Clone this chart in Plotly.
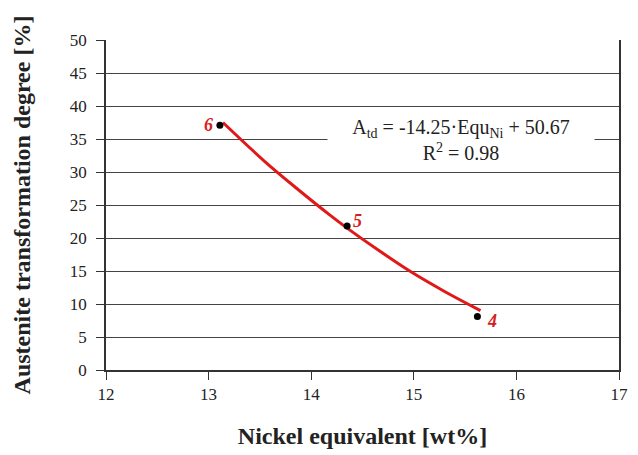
import plotly.graph_objects as go

# Data
sample_ids = ["6", "5", "4"]
nickel_eq = [13.11, 14.35, 15.62]
austenite_deg = [37.1, 21.8, 8.1]

# Trend curve (red)
trend_x = [13.14, 13.54, 13.86, 14.18, 14.35, 14.66, 14.98, 15.30, 15.65]
trend_y = [37.5, 31.7, 27.5, 23.5, 21.5, 18.1, 14.8, 11.9, 9.0]

x_ticks = [12, 13, 14, 15, 16, 17]
y_ticks = [0, 5, 10, 15, 20, 25, 30, 35, 40, 45, 50]

label_shift = {"6": (-11, 0), "5": (10, -5), "4": (15, 4)}

SERIF = "Liberation Serif, Times New Roman, serif"

fig = go.Figure()
fig.add_trace(go.Scatter(x=trend_x, y=trend_y, mode="lines",
                         line=dict(color="#e01818", width=3, shape="spline", smoothing=1.0),
                         hoverinfo="skip", showlegend=False))
fig.add_trace(go.Scatter(x=nickel_eq, y=austenite_deg, mode="markers",
                         marker=dict(color="black", size=7),
                         showlegend=False))

for sid, xv, yv in zip(sample_ids, nickel_eq, austenite_deg):
    dx, dy = label_shift[sid]
    fig.add_annotation(x=xv, y=yv, text=f"<b><i>{sid}</i></b>", showarrow=False,
                       xshift=dx, yshift=-dy,
                       font=dict(family=SERIF, size=18, color="#d42020"))

fig.add_annotation(x=15.46, y=34.9, xref="x", yref="y",
                   text="A<sub>td</sub> = -14.25·Equ<sub>Ni</sub> + 50.67<br>R<sup>2</sup> = 0.98",
                   showarrow=False, bgcolor="white", width=264, height=44,
                   align="center",
                   font=dict(family=SERIF, size=20, color="#222"))

fig.update_layout(
    width=638, height=455,
    margin=dict(l=106, r=10, t=40, b=82),
    paper_bgcolor="white", plot_bgcolor="white",
    font=dict(family=SERIF, color="#222"),
    xaxis=dict(range=[12, 17], tickvals=x_ticks, showgrid=False, zeroline=False,
               showline=True, linecolor="#333", linewidth=1.5,
               ticks="outside", ticklen=8, tickcolor="#333",
               tickfont=dict(family=SERIF, size=17, color="#222"),
               title=dict(text="<b>Nickel equivalent [wt%]</b>",
                          font=dict(family=SERIF, size=24, color="#222"),
                          standoff=24)),
    yaxis=dict(range=[0, 50], tickvals=y_ticks, showgrid=True, gridcolor="#444",
               gridwidth=1, zeroline=False,
               showline=True, linecolor="#333", linewidth=1.5, mirror=True,
               ticks="outside", ticklen=8, tickcolor="#333",
               tickfont=dict(family=SERIF, size=17, color="#222"),
               ticklabelstandoff=6,
               title=dict(text="<b>Austenite transformation degree [%]</b>",
                          font=dict(family=SERIF, size=24, color="#222"),
                          standoff=32)),
)

fig.write_html("out.html")
